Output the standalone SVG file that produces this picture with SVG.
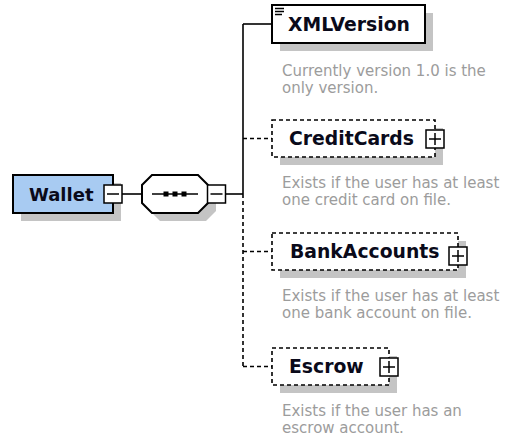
<svg xmlns="http://www.w3.org/2000/svg" width="507" height="440" viewBox="0 0 507 440">
<style>
.bg{fill:#ffffff}
.shadow{fill:#c4c4c4;stroke:none}
.box{fill:#ffffff;stroke:#000;stroke-width:2}
.dbox{fill:#ffffff;stroke:#000;stroke-width:1.6;stroke-dasharray:4,3}
.wallet{fill:#a8cbf2;stroke:#000;stroke-width:2}
.lbl{font-family:"DejaVu Sans",Verdana,sans-serif;font-weight:bold;font-size:18.8px;fill:#0a0a1a}
.wl{font-size:18px}
.desc{font-family:"DejaVu Sans",Verdana,sans-serif;font-size:15px;fill:#9c9c9c}
.line{stroke:#000;stroke-width:1.6;fill:none}
.dline{stroke:#000;stroke-width:1.6;fill:none;stroke-dasharray:4,3}
.pm{fill:#ffffff;stroke:#000;stroke-width:1.5}
.pmline{stroke:#000;stroke-width:1.5}
</style>
<rect class="bg" x="0" y="0" width="507" height="440"/>

<g id="connectors">
  <line class="line" x1="122" y1="194" x2="142" y2="194"/>
  <line class="line" x1="226" y1="194" x2="243" y2="194"/>
  <line class="line" x1="243" y1="24" x2="243" y2="194"/>
  <line class="dline" x1="243" y1="194" x2="243" y2="366.5"/>
  <line class="line" x1="243" y1="24" x2="272" y2="24"/>
  <line class="dline" x1="243" y1="138.5" x2="272" y2="138.5"/>
  <line class="dline" x1="243" y1="251.5" x2="272" y2="251.5"/>
  <line class="dline" x1="243" y1="366.5" x2="272" y2="366.5"/>
</g>

<g id="Wallet">
  <rect class="shadow" x="21" y="183" width="100" height="38"/>
  <rect class="wallet" x="13" y="175" width="100" height="38"/>
  <text class="lbl wl" x="29" y="200.5">Wallet</text>
  <rect class="pm" x="104" y="185" width="18" height="18"/>
  <line class="pmline" x1="107" y1="194" x2="119" y2="194"/>
</g>

<g id="sequence">
  <polygon class="shadow" points="160,183 206,183 216,193 216,211 206,221 160,221 150,211 150,193"/>
  <polygon class="box" points="152,175 198,175 208,185 208,203 198,213 152,213 142,203 142,185"/>
  <line class="line" x1="152" y1="194" x2="198" y2="194"/>
  <rect x="163.5" y="191.5" width="5" height="5" fill="#000"/>
  <rect x="172.5" y="191.5" width="5" height="5" fill="#000"/>
  <rect x="181.5" y="191.5" width="5" height="5" fill="#000"/>
  <rect class="pm" x="207.5" y="185" width="18" height="18"/>
  <line class="pmline" x1="210.5" y1="194" x2="222.5" y2="194"/>
</g>

<g id="XMLVersion">
  <rect class="shadow" x="280" y="13" width="153" height="38"/>
  <rect class="box" x="272" y="5" width="153" height="38"/>
  <line class="pmline" x1="275" y1="8.5" x2="284" y2="8.5"/>
  <line class="pmline" x1="275" y1="11.5" x2="284" y2="11.5"/>
  <line class="pmline" x1="275" y1="14.5" x2="282" y2="14.5"/>
  <text class="lbl" x="288" y="30.5">XMLVersion</text>
  <text class="desc" x="282" y="76">Currently version 1.0 is the</text>
  <text class="desc" x="282" y="93">only version.</text>
</g>

<g id="CreditCards">
  <rect class="shadow" x="280" y="128" width="163" height="37"/>
  <rect class="dbox" x="272" y="120" width="163" height="37"/>
  <text class="lbl" x="289" y="145">CreditCards</text>
  <rect class="pm" x="426" y="130" width="18" height="18"/>
  <line class="pmline" x1="429" y1="139" x2="441" y2="139"/>
  <line class="pmline" x1="435" y1="133" x2="435" y2="145"/>
  <text class="desc" x="282" y="188">Exists if the user has at least</text>
  <text class="desc" x="282" y="205">one credit card on file.</text>
</g>

<g id="BankAccounts">
  <rect class="shadow" x="280" y="241" width="186" height="37"/>
  <rect class="dbox" x="272" y="233" width="186" height="37"/>
  <text class="lbl" x="290" y="258">BankAccounts</text>
  <rect class="pm" x="449" y="247" width="18" height="18"/>
  <line class="pmline" x1="452" y1="256" x2="464" y2="256"/>
  <line class="pmline" x1="458" y1="250" x2="458" y2="262"/>
  <text class="desc" x="282" y="301">Exists if the user has at least</text>
  <text class="desc" x="282" y="318">one bank account on file.</text>
</g>

<g id="Escrow">
  <rect class="shadow" x="280" y="356" width="117" height="37"/>
  <rect class="dbox" x="272" y="348" width="117" height="37"/>
  <text class="lbl" x="289" y="373">Escrow</text>
  <rect class="pm" x="380" y="358" width="18" height="18"/>
  <line class="pmline" x1="383" y1="367" x2="395" y2="367"/>
  <line class="pmline" x1="389" y1="361" x2="389" y2="373"/>
  <text class="desc" x="282" y="416">Exists if the user has an</text>
  <text class="desc" x="282" y="433">escrow account.</text>
</g>
</svg>
